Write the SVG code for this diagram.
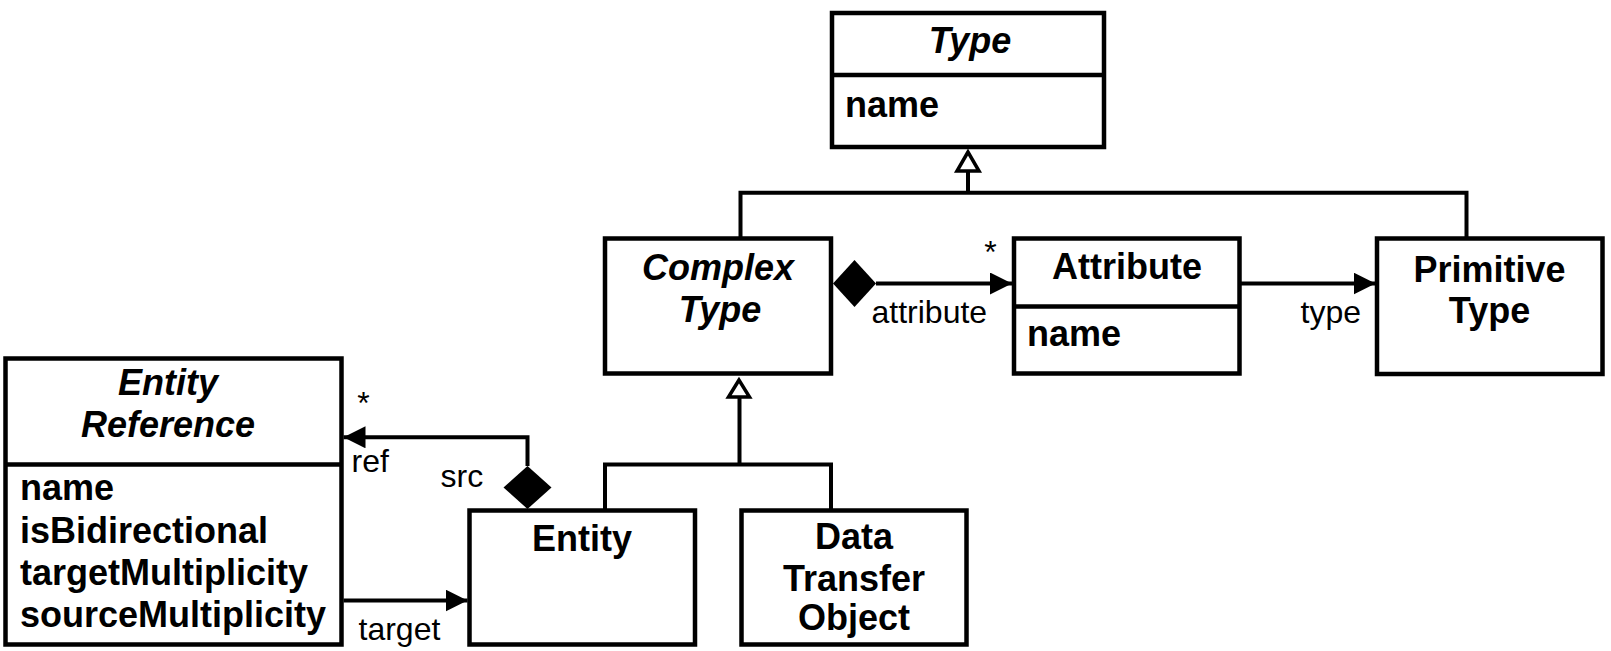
<svg xmlns="http://www.w3.org/2000/svg" width="1611" height="651" viewBox="0 0 1611 651">
  <style>
    .box { fill: #ffffff; stroke: #000000; stroke-width: 4.5; }
    .div { stroke: #000000; stroke-width: 4.5; fill: none; }
    .ttl { font-family: "Liberation Sans", Arial, Helvetica, sans-serif; font-size: 36px; font-weight: bold; fill: #000000; }
    .abs { font-style: italic; }
    .mid { text-anchor: middle; }
    .lbl { font-family: "Liberation Sans", Arial, Helvetica, sans-serif; font-size: 32px; fill: #000000; }
    .con { fill: none; stroke: #000000; stroke-width: 4; }
    .hollow { fill: #ffffff; stroke: #000000; stroke-width: 3.5; stroke-linejoin: miter; }
    .filled { fill: #000000; stroke: none; }
  </style>
  <defs>
    <marker id="arrow" markerUnits="userSpaceOnUse" viewBox="0 0 22 22" refX="22" refY="11" markerWidth="22" markerHeight="22" orient="auto">
      <path d="M0,0 L22,11 L0,22 z" fill="#000000"/>
    </marker>
  </defs>
  <rect width="1611" height="651" fill="#ffffff"/>

  <g id="connectors">
    <!-- generalization to Type -->
    <path class="con" d="M740.5 238.5 V192.7 H1466.5 V238.5"/>
    <path class="con" d="M968 192.7 V171"/>
    <polygon class="hollow" points="968,152 957,171 979,171"/>
    <!-- generalization to Complex Type -->
    <path class="con" d="M605 510.5 V464.5 H831 V510.5"/>
    <path class="con" d="M739.5 464.5 V397"/>
    <polygon class="hollow" points="739,380 728.5,397 749.5,397"/>
    <!-- composition Complex Type -> Attribute -->
    <polygon class="filled" points="833,283.5 854.5,260 876,283.5 854.5,307"/>
    <path class="con" d="M876 283.5 H1012" marker-end="url(#arrow)"/>
    <text class="lbl mid" x="990.5" y="263">*</text>
    <text class="lbl" x="871.5" y="323">attribute</text>
    <!-- Attribute -> Primitive Type -->
    <path class="con" d="M1239.5 283.5 H1375.5" marker-end="url(#arrow)"/>
    <text class="lbl" x="1300.5" y="323">type</text>
    <!-- composition Entity -> Entity Reference -->
    <polygon class="filled" points="527.5,466 551.5,487.5 527.5,509 503.5,487.5"/>
    <path class="con" d="M527.5 466 V437.3 H343.5" marker-end="url(#arrow)"/>
    <text class="lbl mid" x="363.5" y="414">*</text>
    <text class="lbl" x="351.5" y="471.5">ref</text>
    <text class="lbl" x="440.5" y="486.5">src</text>
    <!-- Entity Reference -> Entity -->
    <path class="con" d="M343.5 600.5 H467.5" marker-end="url(#arrow)"/>
    <text class="lbl" x="358.5" y="640">target</text>
  </g>

  <g id="type">
    <rect class="box" x="832" y="13" width="272" height="134"/>
    <line class="div" x1="832" y1="75" x2="1104" y2="75"/>
    <text class="ttl abs mid" x="970" y="53">Type</text>
    <text class="ttl" x="845" y="116.5">name</text>
  </g>

  <g id="complex-type">
    <rect class="box" x="605" y="238.5" width="226" height="135"/>
    <text class="ttl abs mid" x="718" y="280">Complex</text>
    <text class="ttl abs mid" x="720" y="321.5">Type</text>
  </g>

  <g id="attribute">
    <rect class="box" x="1014" y="238.5" width="225.5" height="135"/>
    <line class="div" x1="1014" y1="306.5" x2="1239.5" y2="306.5"/>
    <text class="ttl mid" x="1127" y="278.5">Attribute</text>
    <text class="ttl" x="1027" y="345.5">name</text>
  </g>

  <g id="primitive-type">
    <rect class="box" x="1377" y="238.5" width="225.5" height="135.5"/>
    <text class="ttl mid" x="1489.5" y="281.5">Primitive</text>
    <text class="ttl mid" x="1489.5" y="323">Type</text>
  </g>

  <g id="entity-reference">
    <rect class="box" x="5.5" y="358.5" width="336" height="286"/>
    <line class="div" x1="5.5" y1="464.5" x2="341.5" y2="464.5"/>
    <text class="ttl abs mid" x="168" y="395">Entity</text>
    <text class="ttl abs mid" x="168" y="437">Reference</text>
    <text class="ttl" x="20" y="500">name</text>
    <text class="ttl" x="20" y="543">isBidirectional</text>
    <text class="ttl" x="20" y="585">targetMultiplicity</text>
    <text class="ttl" x="20" y="627">sourceMultiplicity</text>
  </g>

  <g id="entity">
    <rect class="box" x="469.5" y="510.5" width="225.5" height="134"/>
    <text class="ttl mid" x="582" y="550.5">Entity</text>
  </g>

  <g id="data-transfer-object">
    <rect class="box" x="741.5" y="510.5" width="225" height="134"/>
    <text class="ttl mid" x="854" y="548.5">Data</text>
    <text class="ttl mid" x="854" y="591">Transfer</text>
    <text class="ttl mid" x="854" y="630">Object</text>
  </g>
</svg>
